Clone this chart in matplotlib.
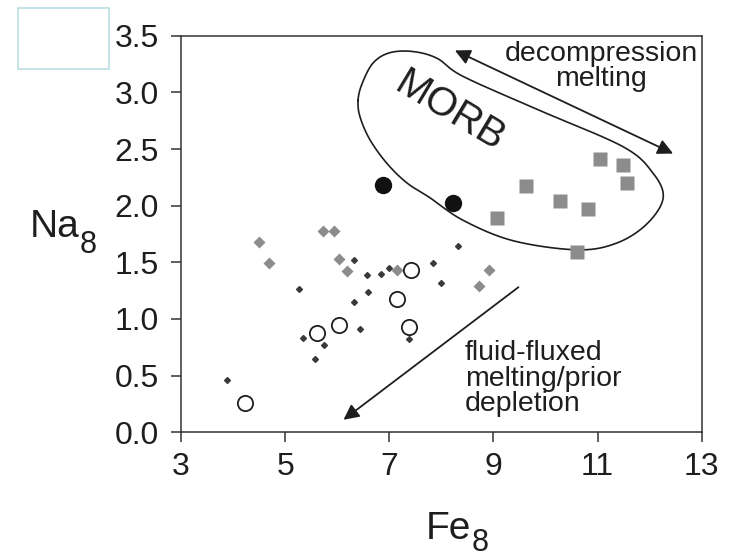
import numpy as np
import matplotlib.pyplot as plt
from matplotlib.patches import Rectangle

plt.rcParams['font.family'] = ['Liberation Sans', 'DejaVu Sans']

# MORB samples (grey squares)
sq_fe = [11.05, 11.48, 11.57, 9.63, 10.27, 10.81, 9.06, 10.61]
sq_na = [2.41, 2.36, 2.20, 2.17, 2.04, 1.97, 1.89, 1.59]

# filled black circles
bc_fe = [6.87, 8.23]
bc_na = [2.18, 2.02]

# grey diamonds
gd_fe = [4.50, 4.68, 5.72, 5.94, 6.03, 6.18, 7.14, 8.92, 8.72]
gd_na = [1.68, 1.49, 1.78, 1.78, 1.53, 1.42, 1.43, 1.43, 1.29]

# small dark dots
sd_fe = [6.33, 6.57, 6.60, 5.27, 6.32, 6.44, 5.34, 5.74, 5.57, 3.88,
         6.85, 6.99, 7.83, 8.31, 7.99, 7.38]
sd_na = [1.52, 1.39, 1.24, 1.26, 1.15, 0.91, 0.83, 0.77, 0.65, 0.46,
         1.40, 1.45, 1.49, 1.64, 1.32, 0.82]

# open circles
oc_fe = [5.61, 6.04, 4.23, 7.42, 7.14, 7.37]
oc_na = [0.88, 0.95, 0.26, 1.43, 1.18, 0.93]

# MORB field outline (control points, clockwise)
env_fe = [6.40, 6.48, 6.69, 7.01, 7.46, 7.92, 8.42, 9.89, 11.49, 12.06, 12.26,
          11.95, 11.37, 10.61, 9.38, 8.42, 7.78, 7.34, 6.96, 6.63, 6.44]
env_na = [2.93, 3.08, 3.26, 3.35, 3.36, 3.30, 3.14, 2.84, 2.52, 2.29, 2.07,
          1.84, 1.67, 1.61, 1.69, 1.87, 2.07, 2.20, 2.37, 2.58, 2.78]


def closed_spline(xs, ys, n=25):
    # periodic Catmull-Rom through the control points
    p = np.column_stack([xs, ys])
    m = len(p)
    out = []
    t = np.linspace(0, 1, n, endpoint=False)[:, None]
    for i in range(m):
        p0, p1, p2, p3 = p[i - 1], p[i], p[(i + 1) % m], p[(i + 2) % m]
        seg = 0.5 * ((2 * p1) + (-p0 + p2) * t + (2 * p0 - 5 * p1 + 4 * p2 - p3) * t ** 2
                     + (-p0 + 3 * p1 - 3 * p2 + p3) * t ** 3)
        out.append(seg)
    out = np.vstack(out + [p[:1]])
    return out[:, 0], out[:, 1]


fig = plt.figure(figsize=(7.35, 5.58), dpi=100)
ax = fig.add_axes([0.2463, 0.2254, 0.7084, 0.7106])

ink = '#1e1e1e'
grey = '#8c8c8c'

ex, ey = closed_spline(env_fe, env_na)
ax.plot(ex, ey, color=ink, lw=1.2, zorder=2)

ax.plot(sd_fe, sd_na, 'D', ms=3.0, color='#3a3a3a', zorder=3)
ax.plot(gd_fe, gd_na, 'D', ms=6.5, color=grey, mec='none', zorder=4)
ax.plot(sq_fe, sq_na, 's', ms=9.5, color=grey, mec='none', zorder=4)
ax.plot(bc_fe, bc_na, 'o', ms=12.5, color='#111111', mec='none', zorder=5)
ax.plot(oc_fe, oc_na, 'o', ms=11, mfc='white', mec=ink, mew=1.3, zorder=5)

# arrows
ax.annotate('', xy=(12.45, 2.46), xytext=(8.26, 3.37),
            arrowprops=dict(arrowstyle='<|-|>', mutation_scale=23, lw=1.3,
                            color=ink, shrinkA=0, shrinkB=0))
ax.annotate('', xy=(6.12, 0.11), xytext=(9.48, 1.28),
            arrowprops=dict(arrowstyle='-|>', mutation_scale=23, lw=1.3,
                            color=ink, shrinkA=0, shrinkB=0))

ax.text(11.07, 3.45, 'decompression\nmelting', ha='center', va='top',
        fontsize=20.5, color=ink, linespacing=0.95)
ax.text(8.45, 0.81, 'fluid-fluxed\nmelting/prior\ndepletion', ha='left', va='top',
        fontsize=20.5, color=ink, linespacing=0.97)
ax.text(8.17, 2.83, 'MORB', rotation=-31, rotation_mode='anchor',
        ha='center', va='center', fontsize=29, color=ink)

ax.set_xlim(3, 13)
ax.set_ylim(0, 3.5)
ax.set_xticks([3, 5, 7, 9, 11, 13])
ax.set_yticks(np.arange(0, 3.51, 0.5))
ax.set_yticklabels([f'{v:.1f}' for v in np.arange(0, 3.51, 0.5)])
ax.tick_params(direction='out', length=7, width=1.1, labelsize=23,
               colors='#333333', labelcolor=ink)
ax.tick_params(axis='y', pad=9)
ax.tick_params(axis='x', pad=7)
for s in ax.spines.values():
    s.set_color('#333333')
    s.set_linewidth(1.1)

# axis labels with large, low subscripts
fig.text(30 / 735, 1 - 237 / 558, 'Na', fontsize=28, color=ink,
         ha='left', va='baseline')
fig.text(80 / 735, 1 - 253 / 558, '8', fontsize=22, color=ink,
         ha='left', va='baseline')
fig.text(426 / 735, 1 - 539 / 558, 'Fe', fontsize=28, color=ink,
         ha='left', va='baseline')
fig.text(472 / 735, 1 - 551 / 558, '8', fontsize=22, color=ink,
         ha='left', va='baseline')

# stray empty box top left
fig.patches.append(Rectangle((17.5 / 735, 1 - 69 / 558), 91.5 / 735, 61 / 558,
                             transform=fig.transFigure, fill=False,
                             edgecolor='#b3dde0', lw=1.1))

fig.savefig('out.png', dpi=100)
